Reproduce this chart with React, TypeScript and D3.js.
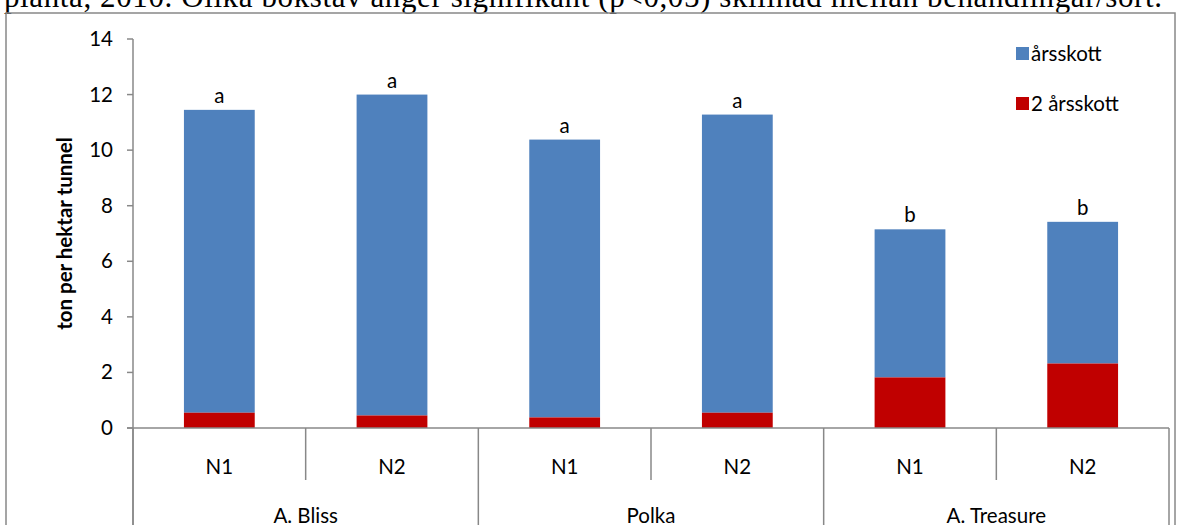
import React from "react";
import * as d3 from "d3";

const groups = ["A. Bliss", "Polka", "A. Treasure"];
const treatments = ["N1", "N2", "N1", "N2", "N1", "N2"];
const totals = [11.45, 12.0, 10.38, 11.28, 7.15, 7.42];
const red = [0.55, 0.45, 0.38, 0.55, 1.82, 2.32];
const letters = ["a", "a", "a", "a", "b", "b"];
const ticks = [0, 2, 4, 6, 8, 10, 12, 14];

export default function App() {
  const W = 1181, H = 525;
  const x0 = 133, x1 = 1169;
  const y = d3.scaleLinear().domain([0, 14]).range([428, 39]);
  const x = d3.scaleBand().domain(d3.range(6).map(String)).range([x0, x1]).paddingInner(0.59).paddingOuter(0.295);
  const slot = (x1 - x0) / 6;
  const font = "Lato, 'Open Sans', sans-serif";
  const fs = 20.5;
  return (
    <svg width={W} height={H} style={{ position: "absolute", left: 0, top: 0, background: "#fff" }}>
      <text x={4} y={7} fontFamily="'Liberation Serif', serif" fontSize={31} textLength={1158}>planta, 2010. Olika bokstav anger signifikant (p&lt;0,05) skillnad mellan behandlingar/sort.</text>
      <rect x={6} y={13} width={1169} height={520} fill="none" stroke="#888" strokeWidth={1.5} />
      {ticks.map(t => (
        <g key={t}>
          <line x1={127} x2={x0} y1={y(t)} y2={y(t)} stroke="#888" strokeWidth={1.5} />
          <text x={113} y={y(t) + 7} textAnchor="end" fontFamily={font} fontSize={fs}>{t}</text>
        </g>
      ))}
      <line x1={x0} x2={x0} y1={y(14)} y2={H} stroke="#888" strokeWidth={1.5} />
      {totals.map((v, i) => {
        const bx = x(String(i))!;
        return (
          <g key={i}>
            <rect x={bx} width={x.bandwidth()} y={y(v)} height={y(red[i]) - y(v)} fill="#4f81bd" />
            <rect x={bx} width={x.bandwidth()} y={y(red[i])} height={y(0) - y(red[i])} fill="#c00000" />
            <text x={bx + x.bandwidth() / 2} y={y(v) - 7} textAnchor="middle" fontFamily={font} fontSize={fs}>{letters[i]}</text>
            <text x={x0 + slot * (i + 0.5)} y={474} textAnchor="middle" fontFamily={font} fontSize={fs}>{treatments[i]}</text>
          </g>
        );
      })}
      <line x1={x0 - 6} x2={x1} y1={428} y2={428} stroke="#888" strokeWidth={1.5} />
      {[1, 3, 5].map(i => (
        <line key={i} x1={x0 + slot * i} x2={x0 + slot * i} y1={428} y2={480} stroke="#888" strokeWidth={1.5} />
      ))}
      {[0, 2, 4, 6].map(i => (
        <line key={i} x1={x0 + slot * i} x2={x0 + slot * i} y1={428} y2={H} stroke="#888" strokeWidth={1.5} />
      ))}
      {groups.map((g, i) => (
        <text key={g} x={x0 + slot * (2 * i + 1)} y={523} textAnchor="middle" fontFamily={font} fontSize={fs}>{g}</text>
      ))}
      <text transform={`translate(72,${y(7)}) rotate(-90)`} textAnchor="middle" fontFamily={font} fontSize={fs} fontWeight="bold">ton per hektar tunnel</text>
      <rect x={1016} y={47} width={13} height={13} fill="#4f81bd" />
      <text x={1031} y={61} fontFamily={font} fontSize={fs}>årsskott</text>
      <rect x={1016} y={97} width={13} height={13} fill="#c00000" />
      <text x={1031} y={111} fontFamily={font} fontSize={fs}>2 årsskott</text>
    </svg>
  );
}
